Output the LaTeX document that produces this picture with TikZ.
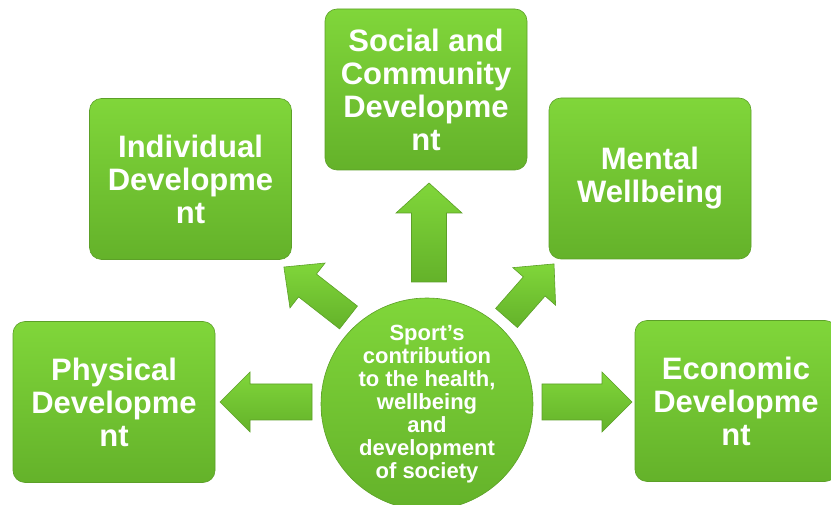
\documentclass[tikz,border=0pt]{standalone}
\usepackage{fontspec}
\setmainfont{Liberation Sans}
\definecolor{leaftop}{RGB}{128,214,58}
\definecolor{leafbot}{RGB}{100,178,42}
\definecolor{leafedge}{RGB}{92,160,40}
\newcommand{\blockarrow}[6]{%
  \path[arrowbody,shift={(#1,#2)},rotate=#3]
    (0,-#5) -- (#4-30,-#5) -- (#4-30,-#6) -- (#4,0) -- (#4-30,#6) -- (#4-30,#5) -- (0,#5) -- cycle;}

\begin{document}
\begin{tikzpicture}[x=1pt,y=1pt]
\tikzstyle{topic} = [draw=leafedge,line width=0.6pt,rounded corners=12pt,top color=leaftop,bottom color=leafbot,text=white,font=\bfseries\fontsize{31}{33}\selectfont,align=center,minimum width=202pt,minimum height=161pt,inner sep=0pt]
\tikzstyle{hub} = [circle,draw=leafedge,line width=0.6pt,top color=leaftop,bottom color=leafbot,text=white,font=\bfseries\fontsize{22}{23}\selectfont,align=center,minimum size=212pt,inner sep=0pt]
\tikzstyle{arrowbody} = [draw=leafedge,line width=0.6pt,top color=leaftop,bottom color=leafbot]
\useasboundingbox (0,0) rectangle (831,504);

\node[hub] (sport) at (427,100) {Sport's\\contribution\\to the health,\\wellbeing\\and\\development\\of society};

\node[topic] (physical) at (114,102) {Physical\\Developme\\nt};
\node[topic] (individual) at (190.5,325) {Individual\\Developme\\nt};
\node[topic] (social) at (426,414.5) {Social and\\Community\\Developme\\nt};
\node[topic] (mental) at (650,325.5) {Mental\\Wellbeing};
\node[topic] (economic) at (736,103) {Economic\\Developme\\nt};

\blockarrow{312}{102}{180}{92}{18}{30}
\blockarrow{542}{102}{0}{90}{18}{30}
\blockarrow{429}{222}{90}{99}{17.5}{33}
\blockarrow{348.5}{186.5}{142}{82}{14.5}{28.5}
\blockarrow{506.5}{186}{48.7}{72}{14.5}{28.5}
\end{tikzpicture}
\end{document}
